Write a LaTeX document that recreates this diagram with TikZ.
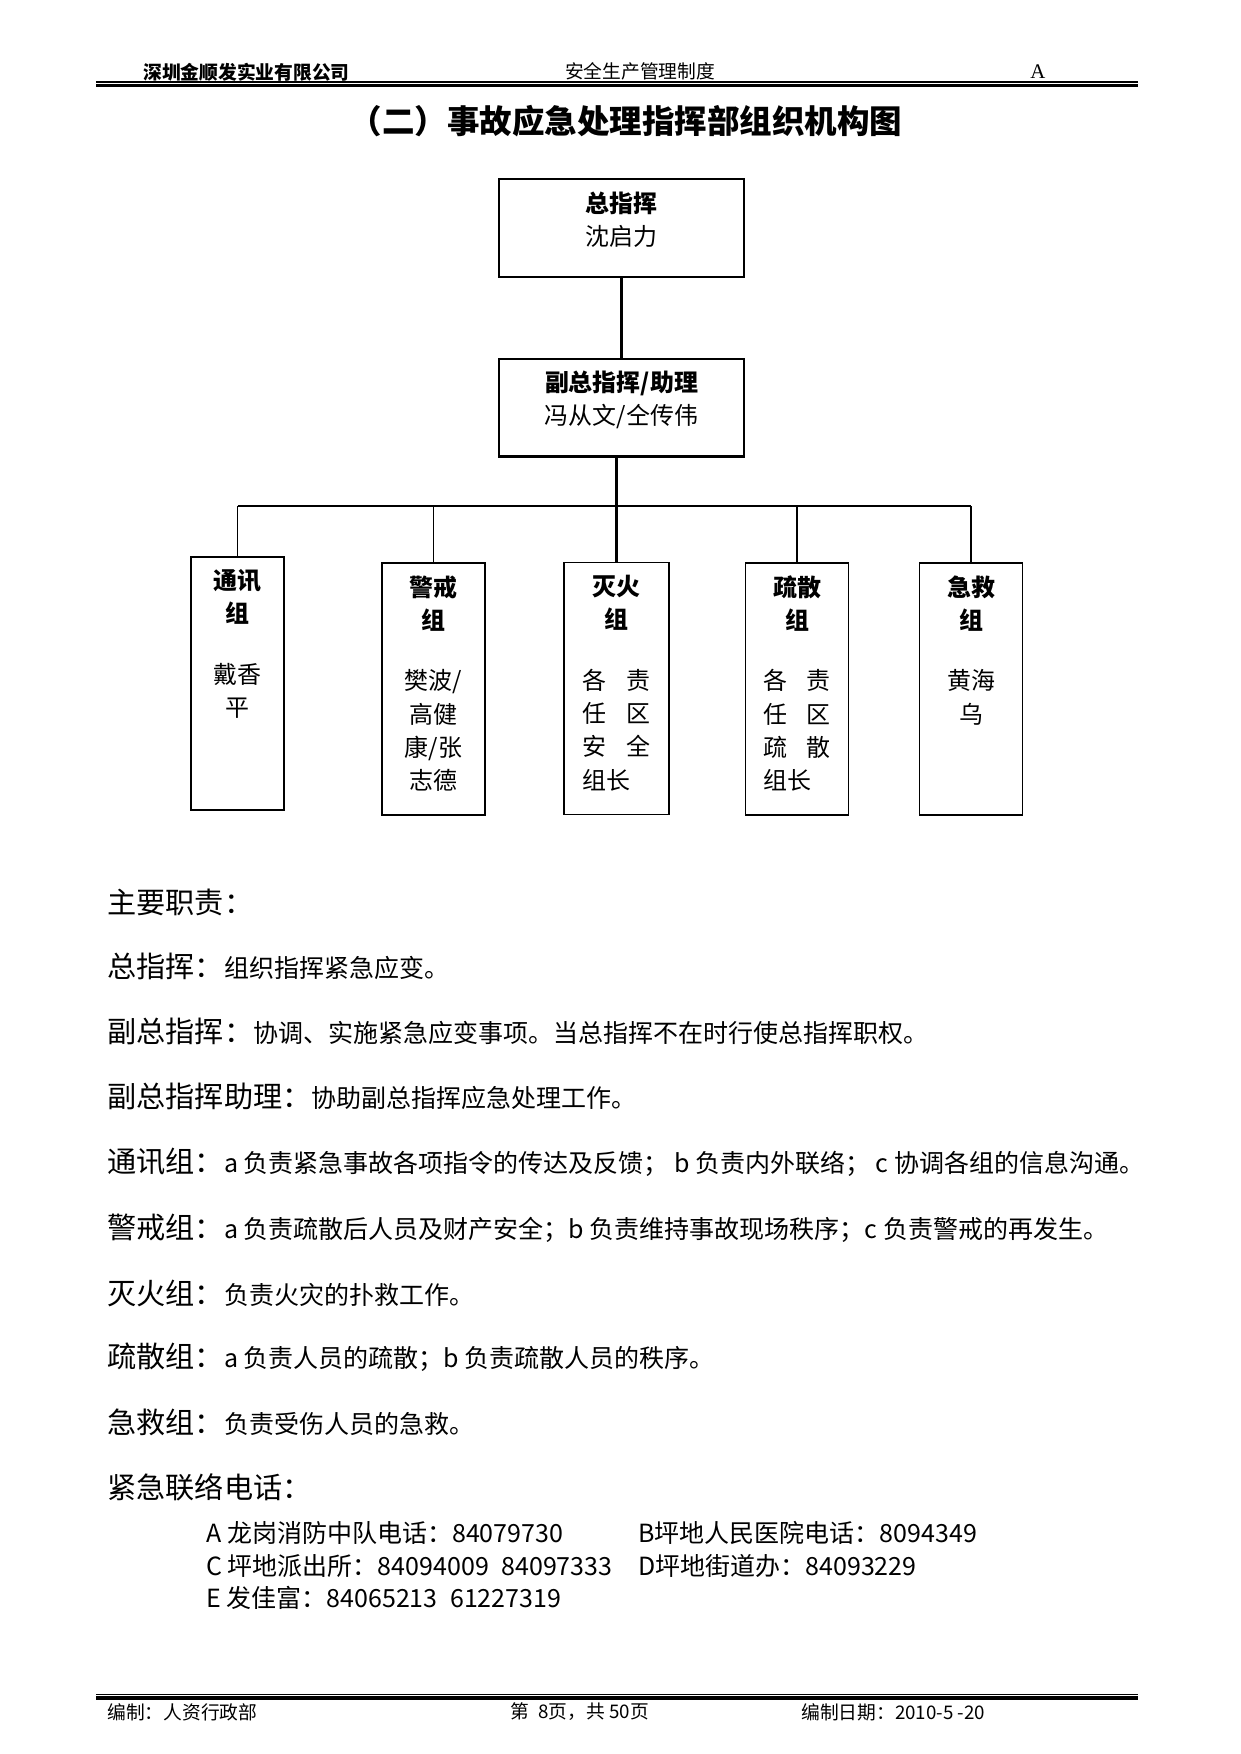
\documentclass[tikz,border=0pt]{standalone}
\usepackage{fontspec}
\setmainfont{Liberation Serif}
\newfontfamily\cjk{Noto Sans CJK SC}
\usepackage{tikz}

\newcommand{\boxtext}[3]{\parbox[c][#1][t]{#2}{\vspace*{6pt}\centering #3}}
\newcommand{\spread}[2]{\makebox[32.6pt][s]{#1\hfill #2}}
\newcommand{\lastline}[1]{\makebox[32.6pt][l]{#1}}
\newcommand{\bod}{\fontsize{12}{14}\selectfont}

\begin{document}
\begin{tikzpicture}[x=0.48pt, y=-0.48pt,
  head/.style={inner sep=0pt, font=\cjk\fontsize{9}{11}\selectfont},
  topbox/.style={draw, line width=1pt, inner sep=0pt, font=\cjk\fontsize{11.5}{16}\selectfont},
  grp/.style={draw, line width=0.9pt, inner sep=0pt, font=\cjk\fontsize{11.5}{16}\selectfont},
  link/.style={line width=1.1pt},
  drop/.style={line width=0.6pt},
  duty/.style={anchor=west, inner sep=0pt, font=\cjk\fontsize{14}{16}\selectfont},
  phone/.style={anchor=west, inner sep=0pt, font=\cjk\fontsize{12}{14}\selectfont}]
  \useasboundingbox (0,0) rectangle (1241,1754);

  % page head
  \node (company) [head, anchor=west, font=\cjk\bfseries\fontsize{9}{11}\selectfont] at (143,72) {深圳金顺发实业有限公司};
  \node (rules) [head] at (640,71) {安全生产管理制度};
  \node (version) [head, font=\fontsize{10}{12}\selectfont] at (1038,72) {A};
  \draw[line width=0.5pt] (96,82) -- (1138,82);
  \draw[line width=1.7pt] (96,85.5) -- (1138,85.5);

  \node (title) [inner sep=0pt, font=\cjk\bfseries\fontsize{15.6}{18}\selectfont] at (626,121) {（二）事故应急处理指挥部组织机构图};

  % chart
  \node (chief) [topbox] at (621.5,228) {\boxtext{47pt}{117.6pt}{\textbf{总指挥}\\沈启力}};
  \node (deputy) [topbox] at (621.5,407.5) {\boxtext{47pt}{117.6pt}{\textbf{副总指挥/助理}\\冯从文/仝传伟}};

  \node (comm) [grp] at (237.5,683.5) {\boxtext{121.4pt}{44.6pt}{\textbf{通讯}\\\textbf{组}\\[13pt]戴香\\平}};
  \node (guard) [grp] at (433.5,689) {\boxtext{121pt}{49.4pt}{\textbf{警戒}\\\textbf{组}\\[13pt]樊波/\\高健\\康/张\\志德}};
  \node (fire) [grp] at (616.5,688.5) {\boxtext{121pt}{50.4pt}{\textbf{灭火}\\\textbf{组}\\[13pt]\spread{各}{责}\\\spread{任}{区}\\\spread{安}{全}\\\lastline{组长}}};
  \node (evac) [grp] at (797,689) {\boxtext{121pt}{49.4pt}{\textbf{疏散}\\\textbf{组}\\[13pt]\spread{各}{责}\\\spread{任}{区}\\\spread{疏}{散}\\\lastline{组长}}};
  \node (rescue) [grp] at (971,689) {\boxtext{121pt}{49.4pt}{\textbf{急救}\\\textbf{组}\\[13pt]黄海\\乌}};

  \coordinate (bus) at (0,506);
  \draw[link] (chief) -- (deputy);
  \draw[link] (deputy.south -| fire.north) -- (fire.north);
  \draw[link] (comm.north |- bus) -- (rescue.north |- bus);
  \foreach \g in {comm,guard,evac,rescue}
    \draw[drop] (\g.north |- bus) -- (\g.north);

  % duties
  \node (duties) [duty] at (107,902) {主要职责：};
  \node (d1) [duty] at (107,966) {总指挥：{\bod 组织指挥紧急应变。}};
  \node (d2) [duty] at (107,1031) {副总指挥：{\bod 协调、实施紧急应变事项。当总指挥不在时行使总指挥职权。}};
  \node (d3) [duty] at (107,1096) {副总指挥助理：{\bod 协助副总指挥应急处理工作。}};
  \node (d4) [duty] at (107,1162) {通讯组：{\bod a 负责紧急事故各项指令的传达及反馈； b 负责内外联络； c 协调各组的信息沟通。}};
  \node (d5) [duty] at (107,1228) {警戒组：{\bod a 负责疏散后人员及财产安全；b 负责维持事故现场秩序；c 负责警戒的再发生。}};
  \node (d6) [duty] at (107,1293) {灭火组：{\bod 负责火灾的扑救工作。}};
  \node (d7) [duty] at (107,1357) {疏散组：{\bod a 负责人员的疏散；b 负责疏散人员的秩序。}};
  \node (d8) [duty] at (107,1422) {急救组：{\bod 负责受伤人员的急救。}};
  \node (tel) [duty] at (107,1487) {紧急联络电话：};

  \node (telA) [phone] at (206,1533) {A 龙岗消防中队电话：84079730};
  \node (telB) [phone] at (638,1533) {B坪地人民医院电话：8094349};
  \node (telC) [phone] at (206,1566) {C 坪地派出所：84094009\enspace 84097333};
  \node (telD) [phone] at (638,1566) {D坪地街道办：84093229};
  \node (telE) [phone] at (206,1598) {E 发佳富：84065213\enspace 61227319};

  % page foot
  \draw[line width=0.5pt] (96,1694) -- (1138,1694);
  \draw[line width=1.9pt] (96,1698) -- (1138,1698);
  \node (editor) [head, anchor=west] at (107,1712) {编制：人资行政部};
  \node (page) [head, anchor=west] at (510,1712) {第\enspace 8页，共 50页};
  \node (date) [head, anchor=west] at (801,1712) {编制日期：2010-5 -20};
\end{tikzpicture}
\end{document}
